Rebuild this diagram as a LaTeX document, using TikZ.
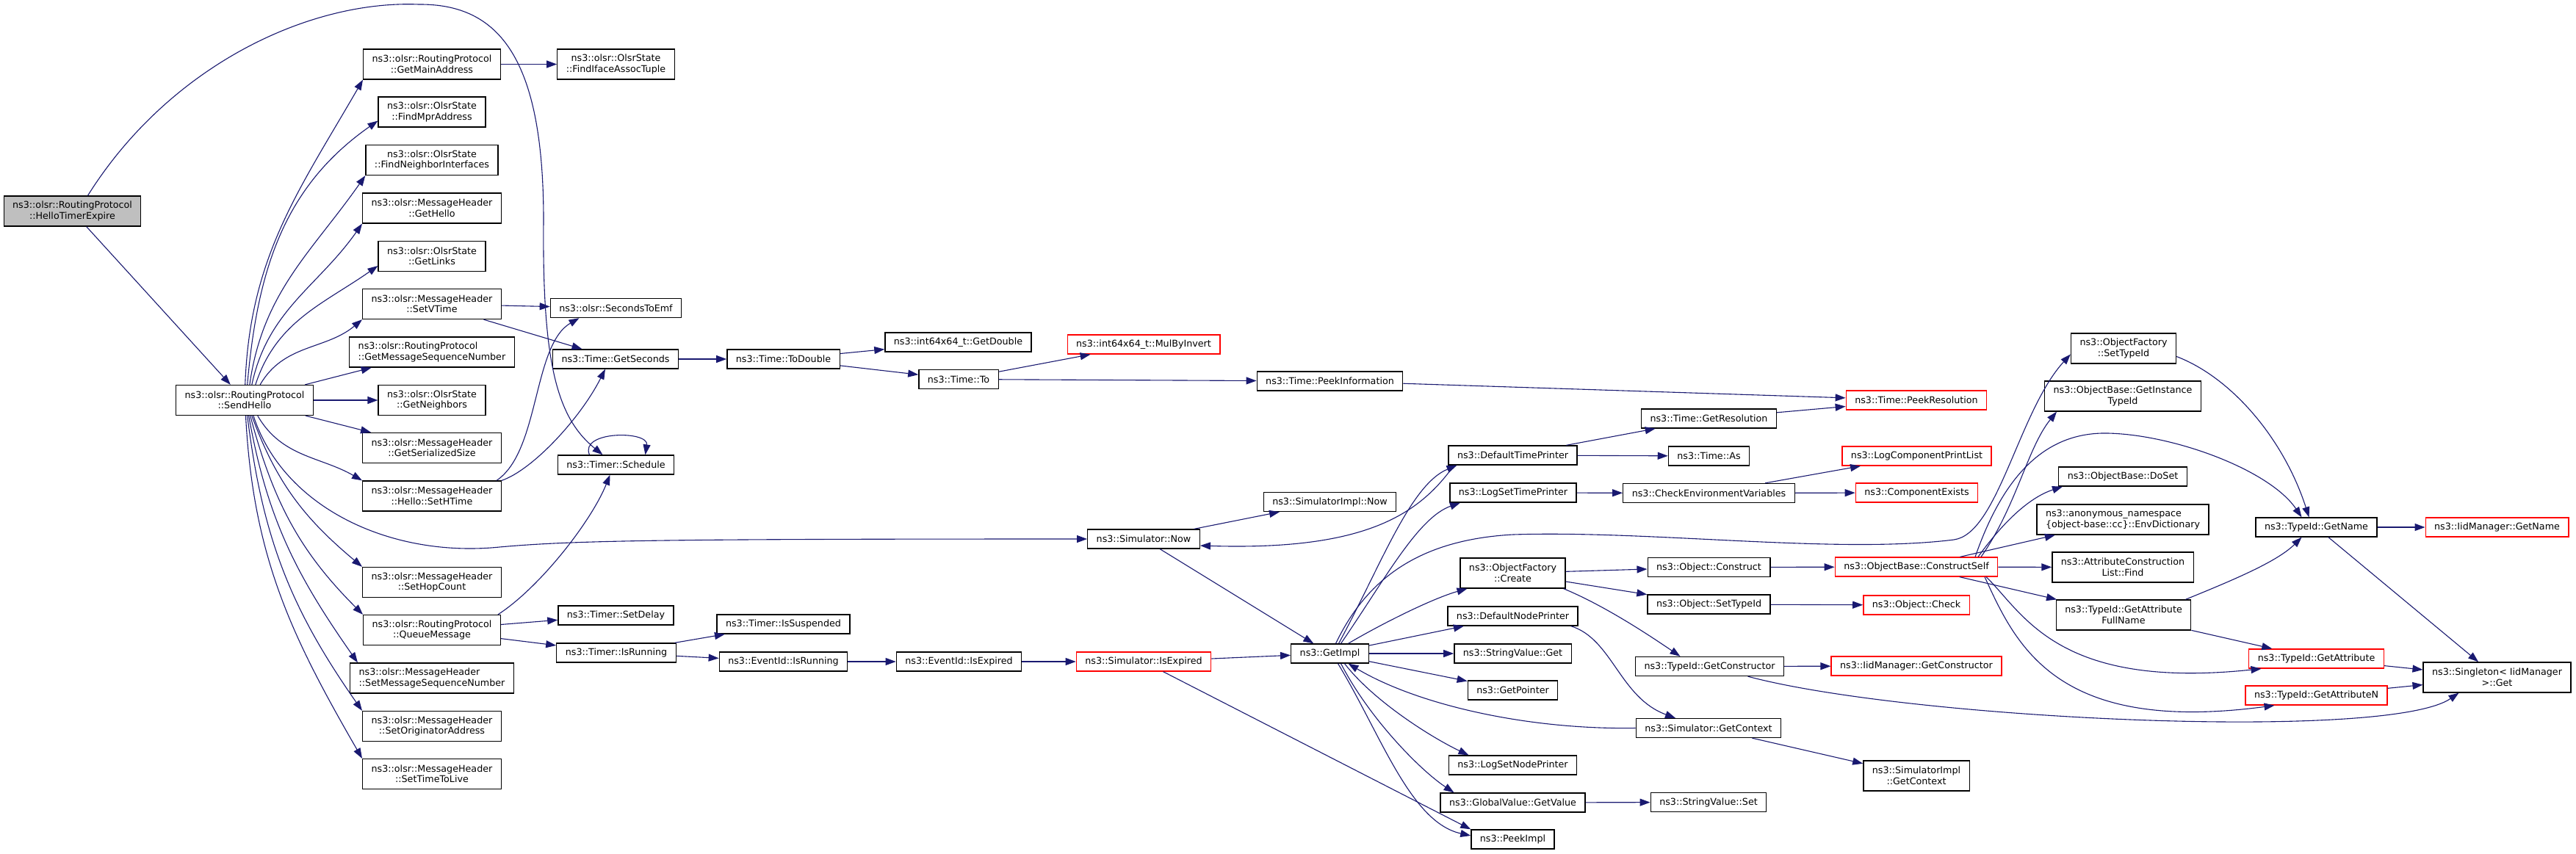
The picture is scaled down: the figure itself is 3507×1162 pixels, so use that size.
\documentclass[tikz,border=0pt]{standalone}
\usepackage{fontspec}
\setmainfont{DejaVu Sans}
\usetikzlibrary{arrows.meta}
\definecolor{edgeblue}{RGB}{25,25,112}
\definecolor{boxgray}{RGB}{191,191,191}

\begin{document}
\begin{tikzpicture}[x=1pt, y=-1pt,
    fn/.style={draw=black, line width=1.3pt, fill=white, inner xsep=12pt, inner ysep=2pt, minimum height=26pt, font=\fontsize{12.7pt}{14.5pt}\selectfont, align=center},
    fntwo/.style={fn, minimum height=41pt},
    redbox/.style={draw=red},
    call/.style={draw=edgeblue, line width=1.1pt, -{Triangle[length=14pt, width=10pt]}}]
                \useasboundingbox (0,0) rectangle (3507,1162);
                \node[fntwo, fill=boxgray] (hte) at (98.5,287.5) {ns3::olsr::RoutingProtocol\\::HelloTimerExpire};
                \foreach \nm/\px/\py/\txt in {
                    sendhello/333/545/{ns3::olsr::RoutingProtocol\\::SendHello},
                    getmainaddr/588/87.5/{ns3::olsr::RoutingProtocol\\::GetMainAddress},
                    findiface/838.5/87.5/{ns3::olsr::OlsrState\\::FindIfaceAssocTuple},
                    findmpr/588/152.5/{ns3::olsr::OlsrState\\::FindMprAddress},
                    findneigh/588/218/{ns3::olsr::OlsrState\\::FindNeighborInterfaces},
                    gethello/588/283.5/{ns3::olsr::MessageHeader\\::GetHello},
                    getlinks/588/349/{ns3::olsr::OlsrState\\::GetLinks},
                    setvtime/588/414/{ns3::olsr::MessageHeader\\::SetVTime},
                    getneigh/588/545/{ns3::olsr::OlsrState\\::GetNeighbors},
                    getsersize/588/610/{ns3::olsr::MessageHeader\\::GetSerializedSize},
                    sethtime/588/675.5/{ns3::olsr::MessageHeader\\::Hello::SetHTime},
                    sethop/588/793/{ns3::olsr::MessageHeader\\::SetHopCount},
                    queuemsg/588/858/{ns3::olsr::RoutingProtocol\\::QueueMessage},
                    setorig/588/989/{ns3::olsr::MessageHeader\\::SetOriginatorAddress},
                    setttl/588/1054/{ns3::olsr::MessageHeader\\::SetTimeToLive},
                    ofcreate/2059.5/780.5/{ns3::ObjectFactory\\::Create},
                    simimplgetctx/2609/1056.5/{ns3::SimulatorImpl\\::GetContext},
                    ofsettypeid/2891/474.5/{ns3::ObjectFactory\\::SetTypeId},
                    getinsttypeid/2890/539.5/{ns3::ObjectBase::GetInstance\\TypeId},
                    aclfind/2890/772.5/{ns3::AttributeConstruction\\List::Find},
                    getattrfullname/2891/837.5/{ns3::TypeId::GetAttribute\\FullName},
                    singleton/3399.5/922.5/{ns3::Singleton< IidManager\\>::Get}} {
                    \node[fntwo] (\nm) at (\px,\py) {\txt};
                }
                \foreach \nm/\px/\py/\txt in {
                    getmsgseq/588/479.5/{ns3::olsr::RoutingProtocol\\::GetMessageSequenceNumber},
                    setmsgseq/588/923.5/{ns3::olsr::MessageHeader\\::SetMessageSequenceNumber},
                    envdict/2890/707.5/{ns3::anonymous\_namespace\\\{object-base::cc\}::EnvDictionary}} {
                    \node[fntwo, align=left] (\nm) at (\px,\py) {\txt};
                }
                \foreach \nm/\px/\py/\txt in {
                    secondstoemf/838.5/419.5/ns3::olsr::SecondsToEmf,
                    getseconds/838/489/ns3::Time::GetSeconds,
                    schedule/838.5/633/ns3::Timer::Schedule,
                    setdelay/838.5/838/ns3::Timer::SetDelay,
                    isrunning/839/889/ns3::Timer::IsRunning,
                    todouble/1066.5/489/ns3::Time::ToDouble,
                    issuspended/1066.5/850/ns3::Timer::IsSuspended,
                    evisrunning/1066.5/901/ns3::EventId::IsRunning,
                    getdouble/1304.5/466/ns3::int64x64\_t::GetDouble,
                    timeto/1305/516.5/ns3::Time::To,
                    evisexpired/1305.5/901/ns3::EventId::IsExpired,
                    simnow/1557/734/ns3::Simulator::Now,
                    peekinfo/1810.5/519/ns3::Time::PeekInformation,
                    simimplnow/1810.5/683.5/ns3::SimulatorImpl::Now,
                    getimpl/1810.5/890/ns3::GetImpl,
                    dtp/2059.5/620/ns3::DefaultTimePrinter,
                    logsettp/2060/671/ns3::LogSetTimePrinter,
                    dnp/2059.5/839/ns3::DefaultNodePrinter,
                    svget/2059.5/890/ns3::StringValue::Get,
                    getpointer/2059.5/940/ns3::GetPointer,
                    logsetnp/2059.5/1042/ns3::LogSetNodePrinter,
                    gvgetvalue/2059.5/1093/ns3::GlobalValue::GetValue,
                    peekimpl/2059.5/1143/ns3::PeekImpl,
                    getres/2326.5/570/ns3::Time::GetResolution,
                    timeas/2326.5/621/ns3::Time::As,
                    checkenv/2326.5/671.5/ns3::CheckEnvironmentVariables,
                    objconstruct/2326.5/772.5/ns3::Object::Construct,
                    objsettypeid/2326.5/823/ns3::Object::SetTypeId,
                    getconstructor/2327.5/907.5/ns3::TypeId::GetConstructor,
                    simgetcontext/2326/991.5/ns3::Simulator::GetContext,
                    svset/2326/1092.5/ns3::StringValue::Set,
                    doset/2890/649/ns3::ObjectBase::DoSet,
                    getname/3153.5/718/ns3::TypeId::GetName} {
                    \node[fn] (\nm) at (\px,\py) {\txt};
                }
                \foreach \nm/\px/\py/\txt in {
                    mulbyinvert/1557/469/ns3::int64x64\_t::MulByInvert,
                    simisexpired/1557/901/ns3::Simulator::IsExpired,
                    peekres/2609/545/ns3::Time::PeekResolution,
                    logcomp/2609.5/621/ns3::LogComponentPrintList,
                    compexists/2609.5/671/ns3::ComponentExists,
                    constructself/2609/772/ns3::ObjectBase::ConstructSelf,
                    objcheck/2609/824/ns3::Object::Check,
                    iidgetconstructor/2609/907/ns3::IidManager::GetConstructor,
                    getattribute/3153.5/897/ns3::TypeId::GetAttribute,
                    getattributen/3153.5/947/ns3::TypeId::GetAttributeN,
                    iidgetname/3399.5/718/ns3::IidManager::GetName} {
                    \node[fn, redbox] (\nm) at (\px,\py) {\txt};
                }
                \foreach \a/\b in {hte/sendhello, sendhello/getmsgseq, sendhello/getneigh, sendhello/getsersize,
                    getmainaddr/findiface, setvtime/secondstoemf, setvtime/getseconds, queuemsg/setdelay,
                    queuemsg/isrunning, getseconds/todouble, todouble/getdouble, todouble/timeto,
                    timeto/mulbyinvert, timeto/peekinfo, peekinfo/peekres, getres/peekres, dtp/getres,
                    dtp/timeas, logsettp/checkenv, checkenv/logcomp, checkenv/compexists,
                    isrunning/issuspended, isrunning/evisrunning, evisrunning/evisexpired,
                    evisexpired/simisexpired, simisexpired/getimpl, simnow/simimplnow, simnow/getimpl,
                    getimpl/dnp, getimpl/svget, getimpl/getpointer, ofcreate/objconstruct,
                    ofcreate/objsettypeid, objconstruct/constructself, objsettypeid/objcheck,
                    getconstructor/iidgetconstructor, gvgetvalue/svset, simgetcontext/simimplgetctx,
                    constructself/envdict, constructself/aclfind, constructself/getattrfullname,
                    getattrfullname/getattribute, getname/iidgetname, getname/singleton,
                    getattribute/singleton, getattributen/singleton} {
                    \draw[call] (\a) -- (\b);
                }
                \draw[call] (simisexpired) -- (peekimpl.north west);
                \draw[call] (sendhello.88) to[out=88, in=240] (getmainaddr.south west);
                \draw[call] (sendhello.80) to[out=85, in=215] ([yshift=-12pt]findmpr.west);
                \draw[call] (sendhello.72) to[out=82, in=235] (findneigh.south west);
                \draw[call] (sendhello.65) to[out=78, in=235] (gethello.south west);
                \draw[call] (sendhello.55) to[out=72, in=215] ([yshift=-13pt]getlinks.west);
                \draw[call] (sendhello.45) to[out=60, in=220] (setvtime.south west);
                \draw[call] (sendhello.-50) to[out=-60, in=150] (sethtime.north west);
                \draw[call] (sendhello.-65) to[out=-70, in=140] (sethop.north west);
                \draw[call] (sendhello.-70) to[out=-75, in=135] (queuemsg.north west);
                \draw[call] (sendhello.-75) to[out=-80, in=125] ([xshift=11pt]setmsgseq.north west);
                \draw[call] (sendhello.-80) to[out=-83, in=125] (setorig.north west);
                \draw[call] (sendhello.-86) to[out=-87, in=120] (setttl.north west);
                \draw[call] ([xshift=12pt]sendhello.south) .. controls (385,690) and (530,760) .. (680,745) .. controls (780,736) and (900,734) .. (simnow.west);
                \draw[call] ([xshift=21pt]hte.north) .. controls (230,90) and (420,0) .. (570,6) .. controls (680,5) and (740,80) .. (740,300) .. controls (738,500) and (760,570) .. ([xshift=-18pt]schedule.north);
                \draw[call] ([xshift=-36pt]schedule.north) .. controls ([xshift=-50pt,yshift=33pt]schedule.north) and ([xshift=45pt,yshift=33pt]schedule.north) .. ([xshift=40pt]schedule.north);
                \draw[call] ([xshift=-4pt]queuemsg.north east) .. controls (735,800) and (805,710) .. ([xshift=-8pt]schedule.south);
                \draw[call] ([xshift=-7pt]sethtime.north east) .. controls (735,615) and (725,470) .. ([xshift=-50pt]secondstoemf.south);
                \draw[call] (sethtime.north east) .. controls (725,640) and (790,570) .. ([xshift=-14pt]getseconds.south);
                \draw[call] ([xshift=-80pt]dtp.south) .. controls (1932,700) and (1860,750) .. ([yshift=-9pt]simnow.east);
                \draw[call] ([xshift=12pt]getimpl.north) .. controls (1880,770) and (1920,660) .. ([xshift=-76pt]dtp.south);
                \draw[call] ([xshift=15pt]getimpl.north) .. controls (1885,790) and (1930,705) .. ([xshift=-72pt]logsettp.south);
                \draw[call] ([xshift=25pt]getimpl.north) .. controls (1880,850) and (1950,815) .. ([xshift=-62pt]ofcreate.south);
                \draw[call] ([xshift=20pt]getimpl.south) .. controls (1870,955) and (1950,1005) .. ([xshift=-60pt]logsetnp.north);
                \draw[call] ([xshift=15pt]getimpl.south) .. controls (1865,980) and (1935,1050) .. ([xshift=-80pt]gvgetvalue.north);
                \draw[call] ([xshift=11pt]getimpl.south) .. controls (1880,1000) and (1920,1120) .. ([yshift=5pt]peekimpl.west);
                \draw[call] (simgetcontext.west) .. controls (2080,994) and (1930,960) .. ([xshift=25pt]getimpl.south);
                \draw[call] ([xshift=8pt]getimpl.north) .. controls (1860,790) and (1930,735) .. (2060,728) .. controls (2250,722) and (2500,755) .. (2660,735) .. controls (2720,727) and (2748,560) .. ([yshift=-8pt]ofsettypeid.west);
                \draw[call] ([xshift=-3pt]ofcreate.south east) .. controls (2185,825) and (2245,865) .. ([xshift=-40pt]getconstructor.north);
                \draw[call] ([xshift=-10pt]dnp.south east) .. controls (2195,870) and (2205,950) .. ([xshift=-45pt]simgetcontext.north);
                \draw[call] ([xshift=52pt]getconstructor.south) .. controls (2600,980) and (3250,1010) .. ([xshift=-52pt]singleton.south);
                \draw[call] ([xshift=80pt]constructself.north) .. controls (2730,640) and (2790,588) .. (2870,590) .. controls (2960,592) and (3090,640) .. ([xshift=-20pt]getname.north);
                \draw[call] ([xshift=88pt]constructself.north) .. controls (2745,690) and (2760,610) .. ([xshift=-90pt]getinsttypeid.south);
                \draw[call] ([xshift=84pt]constructself.north) .. controls (2735,700) and (2770,675) .. ([xshift=-82pt]doset.south);
                \draw[call] ([xshift=95pt]constructself.south) .. controls (2755,835) and (2800,940) .. ([xshift=-75pt]getattribute.south);
                \draw[call] ([xshift=93pt]constructself.south) .. controls (2745,880) and (2800,1000) .. ([xshift=-57pt]getattributen.south);
                \draw[call] ([yshift=-11pt]ofsettypeid.east) .. controls (3040,515) and (3110,600) .. ([xshift=-10pt]getname.north);
                \draw[call] ([xshift=-8pt]getattrfullname.north east) .. controls (3040,790) and (3100,765) .. ([xshift=-20pt]getname.south);
            \end{tikzpicture}
\end{document}
